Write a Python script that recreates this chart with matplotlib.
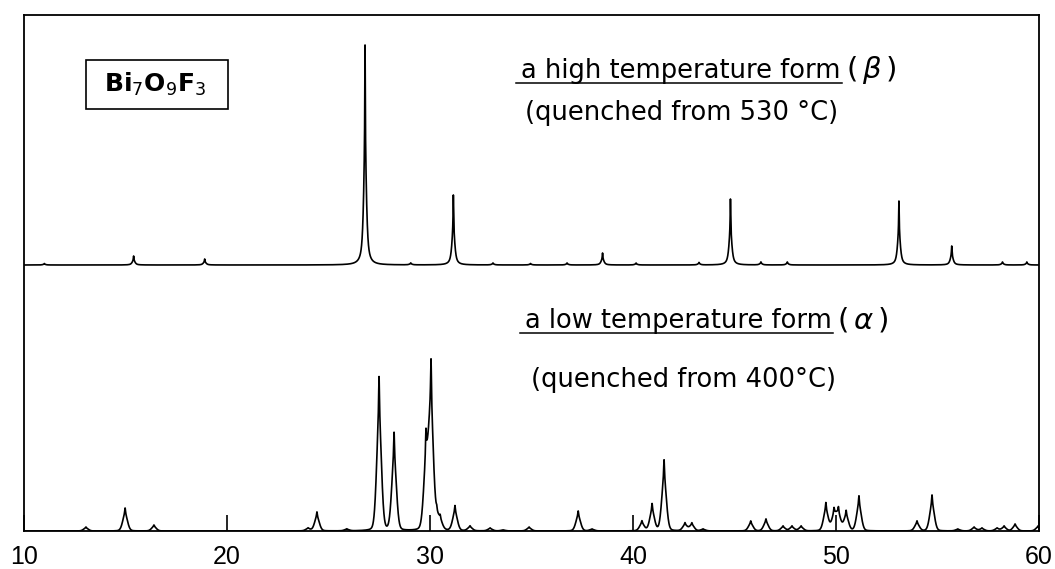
import numpy as np
import matplotlib
matplotlib.use("Agg")
import matplotlib.pyplot as plt
from matplotlib.patches import Rectangle

# ---------------- data ----------------
# high temperature form (beta), quenched from 530 C : peak 2theta / intensity
beta_pos = [11.0, 15.4, 18.9, 26.8, 29.05, 31.15, 33.1, 34.95, 36.75, 38.5,
            40.15, 43.25, 44.8, 46.3, 47.6, 53.1, 55.7, 58.2, 59.4]
beta_int = [1.5, 9, 6, 220, 2, 70, 2, 1.5, 2, 12,
            2, 2.5, 66, 3, 3, 64, 19, 3, 3]

# low temperature form (alpha), quenched from 400 C
alpha_pos = [13.05, 14.98, 16.4, 23.99, 24.43, 25.9, 27.49, 28.23, 29.8, 30.05,
             30.33, 30.5, 31.23, 31.97, 32.96, 33.6, 34.88, 37.3, 37.98, 40.44,
             40.94, 41.53, 42.56, 42.9, 43.45, 45.8, 46.55, 47.39, 47.83, 48.28,
             49.5, 49.9, 50.12, 50.5, 51.13, 53.99, 54.73, 56.0, 56.8, 57.19,
             57.93, 58.28, 58.82, 59.95]
alpha_int = [4, 23, 6, 3, 19, 2, 154, 98, 87, 163,
             13, 11, 25, 5, 3, 1, 4, 20, 2, 10,
             27, 71, 8, 8, 2, 10, 12, 5, 5, 5,
             28, 20, 21, 20, 35, 10, 36, 2, 4, 3,
             3, 5, 7, 5]

beta_offset = 266          # vertical offset of the upper pattern
x_ticks = [10, 20, 30, 40, 50, 60]
x_ticklabels = ["10", "20", "30", "40", "50", "60"]

label_beta = "a high temperature form"
sub_beta = "(quenched from 530 \u00b0C)"
label_alpha = "a low temperature form"
sub_alpha = "(quenched from 400\u00b0C)"
compound = r"$\mathbf{Bi}_7\mathbf{O}_9\mathbf{F}_3$"


# ---------------- rendering ----------------
def lor(x, p, w):
    return 1.0 / (1.0 + ((x - p) / (w / 2.0)) ** 2)


def gau(x, p, w):
    return np.exp(-4 * np.log(2) * ((x - p) / w) ** 2)


def pattern(x, pos, inten, w_body, w_spike, f_spike, eta):
    y = np.zeros_like(x)
    for p, h in zip(pos, inten):
        body = eta * lor(x, p, w_body) + (1 - eta) * gau(x, p, w_body)
        y += h * (f_spike * lor(x, p, w_spike) + (1 - f_spike) * body)
    return y


x = np.linspace(10, 60, 20001)
y_beta = pattern(x, beta_pos, beta_int, 0.17, 0.03, 0.5, 0.8) + beta_offset
y_alpha = pattern(x, alpha_pos, alpha_int, 0.28, 0.05, 0.3, 0.15)

W, H = 1055, 569
fig = plt.figure(figsize=(W / 100, H / 100), dpi=100)
ax = fig.add_axes([24 / W, 38 / H, 1015 / W, 516 / H])
ax.set_xlim(10, 60)
ax.set_ylim(0, 516)

lw = 1.2
ax.plot(x, y_beta, color="black", lw=lw)
ax.plot(x, y_alpha, color="black", lw=lw)

for s in ax.spines.values():
    s.set_linewidth(1.3)

ax.set_xticks(x_ticks)
ax.set_xticklabels(x_ticklabels, fontsize=18, family="Liberation Sans")
ax.tick_params(axis="x", direction="in", length=11.5, width=1.2, pad=10)
ax.set_yticks([])

txt_font = "DejaVu Sans"
fs = 18.5


def px2x(px):
    return 10 + (px - 24) / 20.3


def py2y(py):
    return 531 - py


def labelled(x0, ybase, main, greek, sub_text, sub_x0, sub_y):
    t = ax.text(x0, ybase, main, fontsize=fs, family=txt_font,
                ha="left", va="baseline")
    fig.canvas.draw()
    bb = t.get_window_extent().transformed(ax.transData.inverted())
    uy = ybase - 5
    ax.plot([bb.x0 - 0.25, bb.x1 + 0.05], [uy, uy], color="black", lw=1.1)
    ax.text(bb.x1 + 0.25, ybase, greek, fontsize=21, family=txt_font,
            ha="left", va="baseline")
    ax.text(sub_x0, sub_y, sub_text, fontsize=fs, family=txt_font,
            ha="left", va="center")


labelled(px2x(521), py2y(78), label_beta, r"$(\,\beta\,)$",
         sub_beta, px2x(525), py2y(113))
labelled(px2x(525), py2y(328), label_alpha, r"$(\,\alpha\,)$",
         sub_alpha, px2x(531), py2y(380))

# compound name in a box
ax.add_patch(Rectangle((px2x(86), py2y(109)), 142 / 20.3, 49,
                       fill=False, edgecolor="black", lw=1.2))
ax.text(px2x(155), py2y(84), compound, fontsize=18, ha="center", va="center")

fig.savefig("out.png", dpi=100)
